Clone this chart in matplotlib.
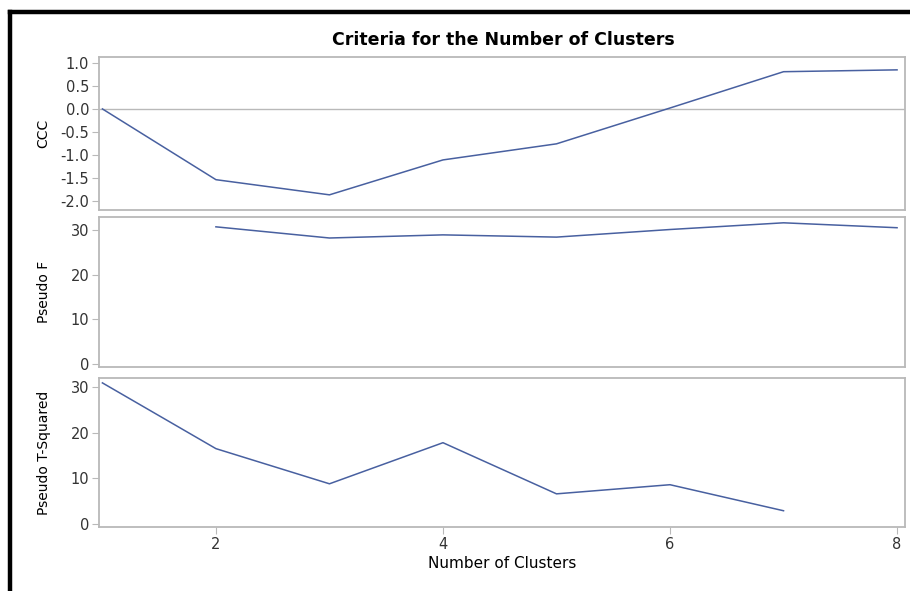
import matplotlib.pyplot as plt
import numpy as np

clusters = [1, 2, 3, 4, 5, 6, 7, 8]
ccc = [0.0, -1.54, -1.87, -1.11, -0.76, 0.02, 0.81, 0.85]
pseudo_f = [np.nan, 30.7, 28.2, 28.9, 28.4, 30.1, 31.6, 30.5]
pseudo_t2 = [30.9, 16.5, 8.8, 17.8, 6.6, 8.6, 2.9, np.nan]

line_col = "#4860a0"
frame_col = "#b9b9b9"

plt.rcParams["font.family"] = ["DejaVu Sans"]

fig = plt.figure(figsize=(9.10, 5.91), dpi=100)

# black frame at top and left (screenshot edge)
fig.add_artist(plt.Line2D([0.0115, 0.0115], [0, 0.979], color="black", lw=3.2,
                          transform=fig.transFigure))
fig.add_artist(plt.Line2D([0.0115, 1.0], [0.980, 0.980], color="black", lw=3.2,
                          transform=fig.transFigure))

left = 99 / 910
width = (905 - 99) / 910
H = 591
ax1 = fig.add_axes([left, 1 - 210 / H, width, 153 / H])
ax2 = fig.add_axes([left, 1 - 367 / H, width, 150 / H])
ax3 = fig.add_axes([left, 1 - 527 / H, width, 149 / H])

ax1.plot(clusters, ccc, color=line_col, lw=1.1)
ax1.axhline(0, color=frame_col, lw=1.0, zorder=0)
ax1.set_ylim(-2.2, 1.13)
ax1.set_yticks([1.0, 0.5, 0.0, -0.5, -1.0, -1.5, -2.0])
ax1.set_yticklabels(["1.0", "0.5", "0.0", "-0.5", "-1.0", "-1.5", "-2.0"])
ax1.set_ylabel("CCC", fontsize=10)

ax2.plot(clusters, pseudo_f, color=line_col, lw=1.1)
ax2.set_ylim(-0.67, 32.9)
ax2.set_yticks([0, 10, 20, 30])
ax2.set_ylabel("Pseudo F", fontsize=10)

ax3.plot(clusters, pseudo_t2, color=line_col, lw=1.1)
ax3.set_ylim(-0.66, 31.97)
ax3.set_yticks([0, 10, 20, 30])
ax3.set_ylabel("Pseudo T-Squared", fontsize=10)
ax3.set_xlabel("Number of Clusters", fontsize=11, labelpad=3)

for ax in (ax1, ax2, ax3):
    ax.set_xlim(0.97, 8.07)
    ax.set_xticks([2, 4, 6, 8])
    for s in ax.spines.values():
        s.set_color(frame_col)
        s.set_linewidth(1.3)
    ax.tick_params(colors="#333333", labelsize=10.5, length=5, width=0.8,
                   color=frame_col, pad=2)
    ax.yaxis.set_label_coords(-0.06, 0.5)

for ax in (ax1, ax2):
    ax.tick_params(axis="x", bottom=False, labelbottom=False)

fig.text(0.553, 1 - 40 / H, "Criteria for the Number of Clusters", ha="center",
         va="center", fontsize=12.5, fontweight="bold")

fig.savefig("out.png", dpi=100)
